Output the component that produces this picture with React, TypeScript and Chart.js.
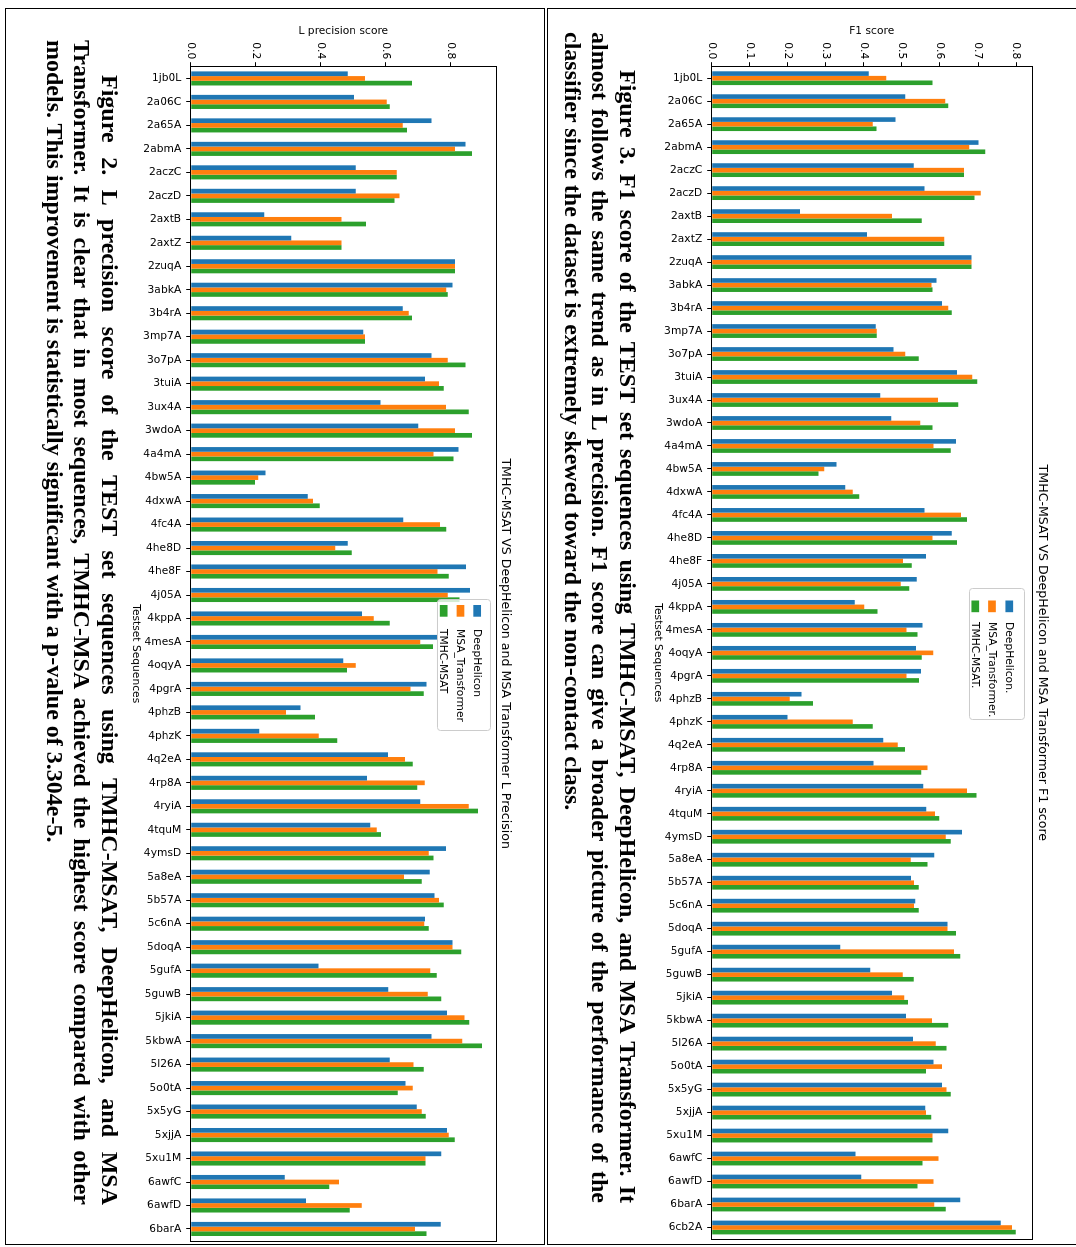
import React, { useEffect, useRef } from "react";
import { Chart, registerables } from "chart.js";

Chart.register(...registerables);

// ---------- data ----------
const categoriesL = [
  "1jb0L", "2a06C", "2a65A", "2abmA", "2aczC", "2aczD", "2axtB", "2axtZ", "2zuqA", "3abkA",
  "3b4rA", "3mp7A", "3o7pA", "3tuiA", "3ux4A", "3wdoA", "4a4mA", "4bw5A", "4dxwA", "4fc4A",
  "4he8D", "4he8F", "4j05A", "4kppA", "4mesA", "4oqyA", "4pgrA", "4phzB", "4phzK", "4q2eA",
  "4rp8A", "4ryiA", "4tquM", "4ymsD", "5a8eA", "5b57A", "5c6nA", "5doqA", "5gufA", "5guwB",
  "5jkiA", "5kbwA", "5l26A", "5o0tA", "5x5yG", "5xjjA", "5xu1M", "6awfC", "6awfD", "6barA",
];
const deepHeliconL = [
  0.483, 0.502, 0.741, 0.845, 0.508, 0.508, 0.226, 0.309, 0.813, 0.805,
  0.652, 0.531, 0.741, 0.721, 0.584, 0.700, 0.824, 0.230, 0.360, 0.654,
  0.483, 0.847, 0.859, 0.527, 0.758, 0.469, 0.725, 0.338, 0.211, 0.607,
  0.542, 0.706, 0.552, 0.785, 0.735, 0.750, 0.721, 0.805, 0.393, 0.608,
  0.788, 0.741, 0.612, 0.661, 0.695, 0.788, 0.771, 0.289, 0.355, 0.769,
];
const msaTransformerL = [
  0.536, 0.603, 0.652, 0.813, 0.634, 0.642, 0.464, 0.464, 0.813, 0.786,
  0.671, 0.536, 0.791, 0.764, 0.785, 0.813, 0.747, 0.208, 0.376, 0.767,
  0.445, 0.759, 0.791, 0.563, 0.706, 0.508, 0.676, 0.293, 0.394, 0.659,
  0.720, 0.855, 0.572, 0.732, 0.656, 0.764, 0.718, 0.805, 0.737, 0.729,
  0.842, 0.835, 0.685, 0.683, 0.711, 0.794, 0.722, 0.456, 0.526, 0.690,
];
const tmhcMsatL = [
  0.681, 0.612, 0.665, 0.865, 0.634, 0.627, 0.539, 0.464, 0.813, 0.791,
  0.681, 0.536, 0.845, 0.778, 0.855, 0.865, 0.808, 0.198, 0.397, 0.786,
  0.495, 0.794, 0.827, 0.612, 0.745, 0.481, 0.717, 0.382, 0.451, 0.683,
  0.697, 0.884, 0.585, 0.747, 0.711, 0.778, 0.732, 0.832, 0.757, 0.771,
  0.857, 0.896, 0.717, 0.637, 0.723, 0.812, 0.722, 0.426, 0.489, 0.725,
];

const categoriesF1 = [...categoriesL, "6cb2A"];
const deepHeliconF1 = [
  0.413, 0.509, 0.483, 0.701, 0.531, 0.559, 0.232, 0.408, 0.683, 0.591,
  0.605, 0.431, 0.478, 0.645, 0.443, 0.472, 0.642, 0.328, 0.351, 0.559,
  0.631, 0.563, 0.539, 0.376, 0.554, 0.537, 0.550, 0.236, 0.199, 0.451,
  0.425, 0.556, 0.564, 0.658, 0.585, 0.524, 0.535, 0.620, 0.338, 0.417,
  0.474, 0.511, 0.529, 0.583, 0.605, 0.561, 0.622, 0.378, 0.393, 0.653,
  0.760,
];
const msaTransformerF1 = [
  0.459, 0.614, 0.423, 0.677, 0.663, 0.707, 0.474, 0.611, 0.683, 0.578,
  0.622, 0.434, 0.509, 0.685, 0.595, 0.548, 0.583, 0.296, 0.371, 0.655,
  0.580, 0.503, 0.497, 0.401, 0.512, 0.582, 0.512, 0.205, 0.371, 0.489,
  0.567, 0.671, 0.587, 0.615, 0.523, 0.532, 0.532, 0.620, 0.637, 0.502,
  0.506, 0.579, 0.589, 0.605, 0.617, 0.563, 0.580, 0.596, 0.583, 0.585,
  0.789,
];
const tmhcMsatF1 = [
  0.580, 0.622, 0.433, 0.719, 0.663, 0.691, 0.552, 0.611, 0.683, 0.580,
  0.631, 0.434, 0.544, 0.698, 0.648, 0.580, 0.628, 0.281, 0.388, 0.671,
  0.645, 0.526, 0.519, 0.436, 0.541, 0.552, 0.545, 0.266, 0.423, 0.508,
  0.551, 0.696, 0.598, 0.628, 0.567, 0.544, 0.544, 0.642, 0.653, 0.531,
  0.516, 0.622, 0.617, 0.563, 0.628, 0.577, 0.580, 0.554, 0.541, 0.615,
  0.799,
];

const legendLabelsL = ["DeepHelicon", "MSA_Transformer", "TMHC-MSAT"];
const legendLabelsF1 = ["DeepHelicon.", "MSA_Transformer.", "TMHC-MSAT."];

const captionF1 = [
  "Figure 3. F1 score of the TEST set sequences using TMHC-MSAT, DeepHelicon, and MSA Transformer. It",
  "almost follows the same trend as in L precision. F1 score can give a broader picture of the performance of the",
  "classifier since the dataset is extremely skewed toward the non-contact class.",
];
const captionL = [
  "Figure 2. L precision score of the TEST set sequences using TMHC-MSAT, DeepHelicon, and MSA",
  "Transformer. It is clear that in most sequences, TMHC-MSA achieved the highest score compared with other",
  "models. This improvement is statistically significant with a p-value of 3.304e-5.",
];

// ---------- styling ----------
const COLORS = ["#1f77b4", "#ff7f0e", "#2ca02c"];
const FONT = '"DejaVu Sans", Verdana, sans-serif';
const TICK_SIZE = 10.7;

const framePlugin = {
  id: "frame",
  afterDatasetsDraw(chart: any) {
    const { ctx, chartArea: a } = chart;
    ctx.save();
    ctx.strokeStyle = "#000";
    ctx.lineWidth = 1;
    ctx.strokeRect(Math.round(a.left) - 0.5, Math.round(a.top) - 0.5, Math.round(a.right - a.left) + 1, Math.round(a.bottom - a.top) + 1);
    ctx.restore();
  },
};

function makeLegendPlugin(cfg: any) {
  return {
    id: "boxLegend",
    afterDatasetsDraw(chart: any) {
      const { ctx, chartArea: a } = chart;
      const x0 = a.left + cfg.x;
      const y0 = a.top + cfg.y;
      ctx.save();
      ctx.beginPath();
      ctx.roundRect(x0 + 0.5, y0 + 0.5, cfg.w, cfg.h, 3);
      ctx.fillStyle = "rgba(255,255,255,0.8)";
      ctx.fill();
      ctx.strokeStyle = "#cccccc";
      ctx.lineWidth = 1;
      ctx.stroke();
      ctx.font = `${TICK_SIZE}px ${FONT}`;
      ctx.textBaseline = "middle";
      ctx.textAlign = "left";
      chart.data.datasets.forEach((ds: any, i: number) => {
        const cy = y0 + cfg.rows[i];
        ctx.fillStyle = ds.backgroundColor;
        ctx.fillRect(x0 + cfg.patchX, cy - cfg.patchH / 2, cfg.patchW, cfg.patchH);
        ctx.fillStyle = "#000";
        ctx.fillText(ds.label, x0 + cfg.textX, cy + 0.5);
      });
      ctx.restore();
    },
  };
}

function makeConfig(o: any) {
  const font = { family: FONT, size: TICK_SIZE };
  return {
    type: "bar",
    data: {
      labels: o.categories,
      datasets: [
        { label: o.legend[0], data: o.blue, backgroundColor: COLORS[0] },
        { label: o.legend[1], data: o.orange, backgroundColor: COLORS[1] },
        { label: o.legend[2], data: o.green, backgroundColor: COLORS[2] },
      ],
    },
    options: {
      animation: false,
      responsive: false,
      maintainAspectRatio: false,
      devicePixelRatio: 1,
      layout: { padding: { left: 0, right: o.padRight, top: 0, bottom: 0 } },
      datasets: { bar: { categoryPercentage: 0.6, barPercentage: 1.0 } },
      plugins: {
        legend: { display: false },
        tooltip: { enabled: false },
        title: {
          display: true,
          text: o.title,
          fullSize: false,
          color: "#000",
          font: { family: FONT, size: 12.6, weight: "normal" },
          padding: { top: o.titlePadTop, bottom: o.titlePadBottom },
        },
      },
      scales: {
        x: {
          type: "category",
          offset: true,
          border: { display: false },
          grid: { display: true, drawOnChartArea: false, offset: false, tickLength: 4.5, color: "#000", lineWidth: 1 },
          ticks: { autoSkip: false, maxRotation: 90, minRotation: 90, padding: 5, color: "#000", font },
          title: { display: true, text: "Testset Sequences", color: "#000", font, padding: { top: 0, bottom: o.xTitlePadBottom } },
          afterFit: (s: any) => { s.height = o.xAxisHeight; },
        },
        y: {
          min: 0,
          max: o.yMax,
          border: { display: false },
          grid: { display: true, drawOnChartArea: false, tickLength: 4.5, color: "#000", lineWidth: 1 },
          ticks: {
            stepSize: o.step,
            includeBounds: false,
            padding: 3,
            color: "#000",
            font,
            callback: (v: any) => Number(v).toFixed(1),
          },
          title: { display: true, text: o.yTitle, color: "#000", font, padding: { top: o.yTitlePadTop, bottom: 0 } },
          afterFit: (s: any) => { s.width = o.yAxisWidth; },
        },
      },
    },
    plugins: [framePlugin, makeLegendPlugin(o.legendBox)],
  };
}

function Caption({ lines, left, top, width, indent }: any) {
  return (
    <div
      style={{
        position: "absolute",
        left,
        top,
        width,
        fontFamily: '"Liberation Serif", "Times New Roman", serif',
        fontWeight: "bold",
        fontSize: 24,
        lineHeight: "27.5px",
        color: "#000",
      }}
    >
      {lines.map((t: string, i: number) => (
        <div
          key={i}
          style={{
            textAlign: i < lines.length - 1 ? "justify" : "left",
            textAlignLast: i < lines.length - 1 ? "justify" : "left",
            textIndent: i === 0 ? indent : 0,
          } as any}
        >
          {t}
        </div>
      ))}
    </div>
  );
}

export default function App() {
  const f1Ref = useRef<HTMLCanvasElement>(null);
  const lRef = useRef<HTMLCanvasElement>(null);

  useEffect(() => {
    const f1 = new Chart(f1Ref.current as HTMLCanvasElement, makeConfig({
      categories: categoriesF1,
      blue: deepHeliconF1,
      orange: msaTransformerF1,
      green: tmhcMsatF1,
      legend: legendLabelsF1,
      title: "TMHC-MSAT VS DeepHelicon and MSA Transformer F1 score",
      yTitle: "F1 score",
      yMax: 0.841,
      step: 0.1,
      padRight: 8,
      titlePadTop: 26.4,
      titlePadBottom: 2.8,
      xAxisHeight: 80.7,
      xTitlePadBottom: 20.5,
      yAxisWidth: 66.7,
      yTitlePadTop: 25,
      legendBox: { x: 521.3, y: 6.7, w: 131, h: 55, rows: [15.7, 33, 49.7], patchX: 12.5, patchW: 11.7, patchH: 7.7, textX: 34 },
    }) as any);
    const lp = new Chart(lRef.current as HTMLCanvasElement, makeConfig({
      categories: categoriesL,
      blue: deepHeliconL,
      orange: msaTransformerL,
      green: tmhcMsatL,
      legend: legendLabelsL,
      title: "TMHC-MSAT VS DeepHelicon and MSA Transformer L Precision",
      yTitle: "L precision score",
      yMax: 0.939,
      step: 0.2,
      padRight: 6.3,
      titlePadTop: 23.4,
      titlePadBottom: 1.5,
      xAxisHeight: 74.7,
      xTitlePadBottom: 13.5,
      yAxisWidth: 66.7,
      yTitlePadTop: 25,
      legendBox: { x: 532.3, y: 5, w: 131, h: 53, rows: [13.8, 30.5, 47.3], patchX: 6, patchW: 11.7, patchH: 7.7, textX: 30 },
    }) as any);
    return () => {
      f1.destroy();
      lp.destroy();
    };
  }, []);

  return (
    <div
      style={{
        position: "fixed",
        left: 0,
        top: 0,
        width: 1247,
        height: 1076,
        transformOrigin: "0 0",
        transform: "translate(1076px, 0) rotate(90deg)",
        background: "#fff",
        overflow: "hidden",
      }}
    >
      <div style={{ position: "absolute", left: 8, top: -2, width: 1237, height: 531, border: "1px solid #000", boxSizing: "border-box" }} />
      <div style={{ position: "absolute", left: 8, top: 531, width: 1237, height: 540, border: "1px solid #000", boxSizing: "border-box" }} />
      <canvas ref={f1Ref} width={1247} height={445} style={{ position: "absolute", left: 0, top: 0 }} />
      <canvas ref={lRef} width={1247} height={420} style={{ position: "absolute", left: 0, top: 540 }} />
      <Caption lines={captionF1} left={32} top={435} width={1171} indent={38} />
      <Caption lines={captionL} left={40} top={953} width={1165} indent={35} />
    </div>
  );
}
